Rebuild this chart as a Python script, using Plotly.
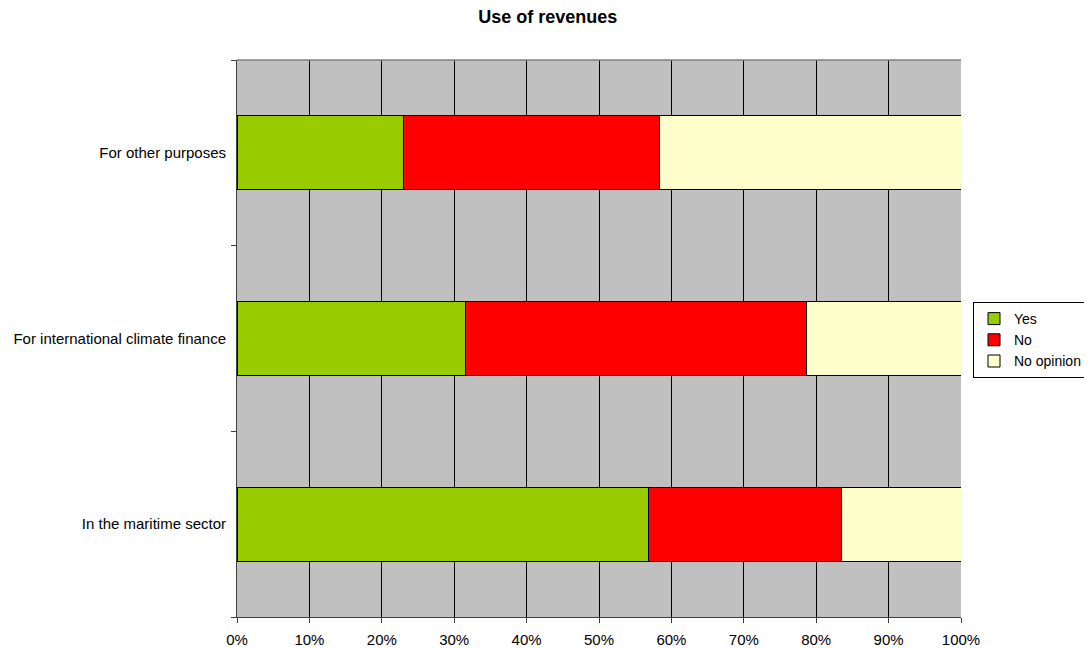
import plotly.graph_objects as go

categories = ["In the maritime sector", "For international climate finance", "For other purposes"]
yes = [56.9, 31.6, 23.0]
no = [26.6, 47.0, 35.3]
no_opinion = [16.5, 21.4, 41.7]
series_names = ["Yes", "No", "No opinion"]
colors = ["#99CC00", "#FF0000", "#FFFFCC"]
x_ticks = [0, 10, 20, 30, 40, 50, 60, 70, 80, 90, 100]
x_tick_labels = [f"{t}%" for t in x_ticks]

W, H = 1084, 640  # page body adds an 8px offset

fig = go.Figure()
for name, vals, col in zip(series_names, [yes, no, no_opinion], colors):
    fig.add_trace(go.Bar(
        y=categories, x=vals, name=name, orientation="h",
        marker=dict(color=col, line=dict(color="black", width=1)),
    ))

fig.update_layout(
    width=W, height=H, autosize=False,
    barmode="stack", bargap=0.6,
    paper_bgcolor="white", plot_bgcolor="#C0C0C0",
    font=dict(family="Liberation Sans, Arial, sans-serif", size=15, color="black"),
    title=dict(text="<b>Use of revenues</b>", x=0.498, xref="container", xanchor="center",
               y=1 - 8.5 / H, yref="container", yanchor="middle", font=dict(size=18)),
    margin=dict(l=229, r=131, t=52, b=31, pad=0),
    showlegend=True,
    legend=dict(x=965 / W, y=1 - 294 / H, xref="container", yref="container",
                xanchor="left", yanchor="top",
                bordercolor="black", borderwidth=1, bgcolor="white",
                traceorder="normal", font=dict(size=14)),
)
fig.update_xaxes(
    range=[0, 100], tickvals=x_ticks, ticktext=x_tick_labels,
    showgrid=True, gridcolor="black", gridwidth=1,
    showline=True, linecolor="#404040", linewidth=1,
    ticks="outside", ticklen=5, tickcolor="#404040",
    zeroline=False, tickfont=dict(size=15), automargin=False,
    ticklabelstandoff=4,
)
fig.update_yaxes(
    type="category", categoryorder="array", categoryarray=categories,
    tickson="boundaries", ticks="outside", ticklen=5, tickcolor="#404040",
    showline=True, linecolor="#404040", linewidth=1,
    showgrid=False, tickfont=dict(size=15), automargin=False,
    ticklabelstandoff=7,
)
fig.add_shape(type="line", xref="paper", yref="paper", x0=0, x1=1, y0=1, y1=1,
              line=dict(color="#808080", width=1.5))

fig.write_html("out.html")
